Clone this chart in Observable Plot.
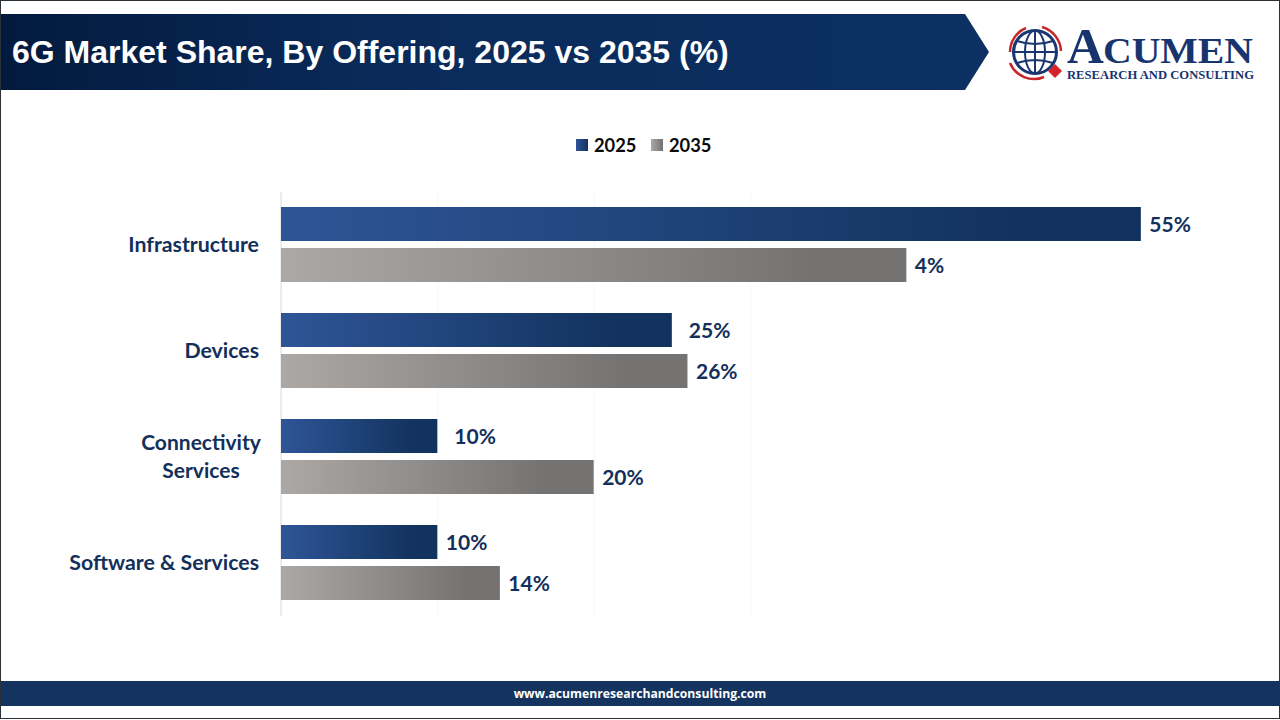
<!DOCTYPE html>
<html>
<head>
<meta charset="utf-8">
<script src="https://cdn.jsdelivr.net/npm/d3@7"></script>
<script src="https://cdn.jsdelivr.net/npm/@observablehq/plot@0.6"></script>
<style>
html,body{margin:0;padding:0;background:#fff;}
#page{position:relative;width:1280px;height:720px;overflow:hidden;background:#fff;}
#frame{position:absolute;left:0;top:0;width:1278px;height:717px;border:1px solid #2b3238;pointer-events:none;}
#banner{position:absolute;left:1px;top:14px;width:988px;height:76px;background:linear-gradient(90deg,#021a3e 0%,#0a2b5a 40%,#0c3063 100%);clip-path:polygon(0 0,964px 0,100% 50%,964px 100%,0 100%);}
#title{position:absolute;left:11px;top:0;font:bold 32px/76px "Liberation Sans",Arial,sans-serif;color:#fff;white-space:nowrap;}
#logo{position:absolute;left:1000px;top:14px;}
#legend{position:absolute;left:0;top:133px;height:24px;width:1280px;font:bold 18.300px/24px Lato,sans-serif;color:#0b0b0b;}
#legend span{position:absolute;top:0;}
#legend i{position:absolute;top:6px;width:12px;height:12px;}
#chart{position:absolute;left:0;top:160px;}
#footer{position:absolute;left:1px;top:681px;width:1278px;height:25px;background:#14345f;color:#fff;text-align:center;font:bold 12.200px/25px "Open Sans",sans-serif;}
</style>
</head>
<body>
<div id="page">
  <div id="banner"><div id="title"></div></div>
  <svg id="logo" width="270" height="76" viewBox="1000 14 270 76">
    <g fill="none" stroke="#c9262c" stroke-width="2.5">
      <path d="M1010 52a26 26 0 0 1 16-24"/>
      <path d="M1042 27a26 26 0 0 1 19 24"/>
      <path d="M1044 77a26 26 0 0 1-34-14"/>
    </g>
    <g fill="none" stroke="#1a3570" stroke-width="2">
      <circle cx="1035" cy="52" r="21.5" stroke-width="3"/>
      <ellipse cx="1035" cy="52" rx="10" ry="21.5"/>
      <path d="M1035 30.500v43M1013.500 52h43M1017 41q18 6 36 0M1017 63q18-6 36 0"/>
    </g>
    <path d="M1055 64l7 7-7 7-7-7z" fill="#d3242b"/>
    <g fill="#17346f" font-family="Liberation Serif,serif" font-weight="bold">
      <text x="1067" y="63" font-size="51">A</text>
      <text x="1103" y="63" font-size="36" textLength="150" lengthAdjust="spacingAndGlyphs">CUMEN</text>
      <text x="1067" y="79" font-size="13.500" textLength="187" lengthAdjust="spacingAndGlyphs">RESEARCH AND CONSULTING</text>
    </g>
  </svg>
  <div id="legend"></div>
  <div id="chart"></div>
  <div id="footer"></div>
  <div id="frame"></div>
</div>
<script>
const titleText = "6G Market Share, By Offering, 2025 vs 2035 (%)";
const footerText = "www.acumenresearchandconsulting.com";
const categories = ["Infrastructure", "Devices", "Connectivity Services", "Software & Services"];
const categoryLines = ["Infrastructure", "Devices", "Connectivity\nServices", "Software & Services"];
const years = ["2025", "2035"];
const values2025 = [55, 25, 10, 10];
const values2035 = [40, 26, 20, 14];
const labels2025 = ["55%", "25%", "10%", "10%"];
const labels2035 = ["4%", "26%", "20%", "14%"];
const gridTicks = [10, 20, 30];

document.getElementById("title").textContent = titleText;
document.getElementById("footer").textContent = footerText;

const legendEl = document.getElementById("legend");
legendEl.innerHTML =
  `<i style="left:576px;background:linear-gradient(90deg,#2f5597,#14315f)"></i><span style="left:594px">${years[0]}</span>` +
  `<i style="left:651px;background:linear-gradient(90deg,#acaaa7,#737170)"></i><span style="left:669px">${years[1]}</span>`;

const rows = categories.flatMap((category, i) => [
  {category, year: years[0], value: values2025[i], label: labels2025[i]},
  {category, year: years[1], value: values2035[i], label: labels2035[i]}
]);
const cats = categories.map((category, i) => ({category, text: categoryLines[i]}));
const isOffset = d => d.year === years[0] && (d.category === categories[1] || d.category === categories[2]);
const isCentered = d => d.text.includes("\n");

const defs = () => {
  const ns = "http://www.w3.org/2000/svg";
  const el = document.createElementNS(ns, "defs");
  el.innerHTML = `
    <linearGradient id="gBlue" x1="0" x2="1" y1="0" y2="0">
      <stop offset="0" stop-color="#2f5597"/><stop offset="0.85" stop-color="#12335f"/><stop offset="1" stop-color="#12335f"/>
    </linearGradient>
    <linearGradient id="gGray" x1="0" x2="1" y1="0" y2="0">
      <stop offset="0" stop-color="#aba8a6"/><stop offset="0.85" stop-color="#757371"/><stop offset="1" stop-color="#757371"/>
    </linearGradient>`;
  return el;
};

const labelFont = {fontFamily: "Lato, sans-serif", fontWeight: "bold", fill: "#12305a"};

const plot = Plot.plot({
  width: 1280,
  height: 480,
  marginLeft: 281,
  marginRight: 61,
  marginTop: 31,
  marginBottom: 24,
  style: {background: "transparent", overflow: "visible"},
  x: {domain: [0, 60], axis: null},
  y: {domain: years, axis: null, paddingInner: 0.17, paddingOuter: 0.366},
  fy: {domain: categories, axis: null, padding: 0},
  marks: [
    defs,
    Plot.ruleX(gridTicks, {x: d => d, stroke: "#f8f8f8", strokeWidth: 1}),
    Plot.ruleX([0], {stroke: "#d9d9d9", strokeWidth: 1, dx: -0.5}),
    Plot.barX(rows.filter(d => d.year === years[0]), {x: "value", y: "year", fy: "category", fill: "url(#gBlue)"}),
    Plot.barX(rows.filter(d => d.year === years[1]), {x: "value", y: "year", fy: "category", fill: "url(#gGray)"}),
    Plot.text(rows.filter(d => !isOffset(d)), {x: "value", y: "year", fy: "category", text: "label", textAnchor: "start", dx: 8, dy: 1, fontSize: 21, ...labelFont}),
    Plot.text(rows.filter(isOffset), {x: "value", y: "year", fy: "category", text: "label", textAnchor: "start", dx: 16.500, dy: 1, fontSize: 21, ...labelFont}),
    Plot.text(cats.filter(d => !isCentered(d)), {x: () => 0, fy: "category", text: "text", textAnchor: "end", dx: -22.500, frameAnchor: "middle", fontSize: 21.300, ...labelFont}),
    Plot.text(cats.filter(isCentered), {x: () => 0, fy: "category", text: "text", textAnchor: "middle", dx: -80.500, dy: -2, frameAnchor: "middle", fontSize: 21, lineHeight: 1.33, ...labelFont})
  ]
});
document.getElementById("chart").appendChild(plot);
</script>
</body>
</html>
